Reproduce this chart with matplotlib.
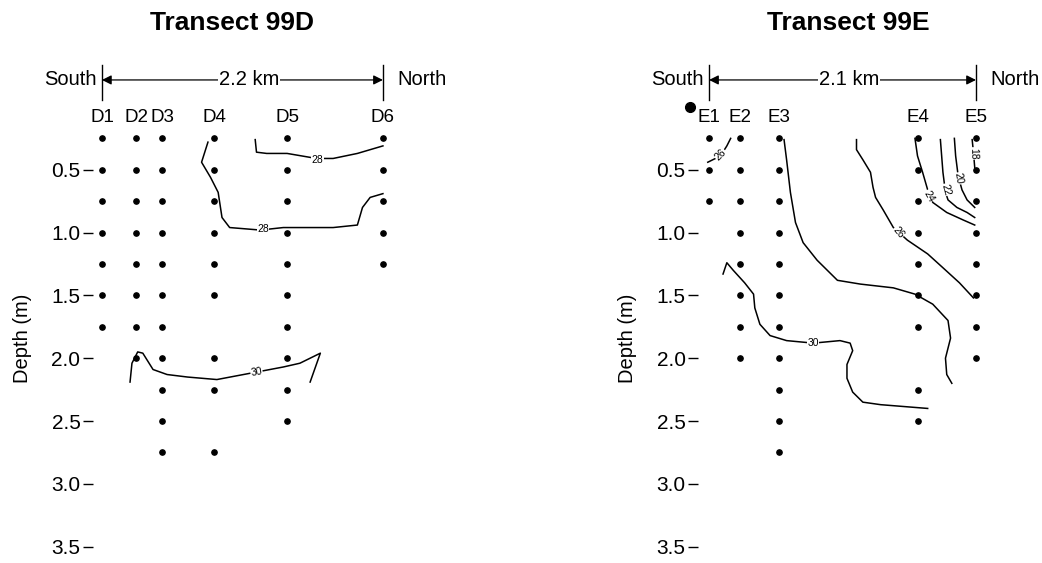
import numpy as np
import matplotlib
matplotlib.use("Agg")
import matplotlib.pyplot as plt

plt.rcParams['font.family'] = ['Liberation Sans', 'DejaVu Sans']

# ---- Transect 99D ----
d_names = ['D1', 'D2', 'D3', 'D4', 'D5', 'D6']
d_km = [0.0, 0.27, 0.47, 0.88, 1.45, 2.2]
d_depths = [
    [0.25, 0.5, 0.75, 1.0, 1.25, 1.5, 1.75],
    [0.25, 0.5, 0.75, 1.0, 1.25, 1.5, 1.75, 2.0],
    [0.25, 0.5, 0.75, 1.0, 1.25, 1.5, 1.75, 2.0, 2.25, 2.5, 2.75],
    [0.25, 0.5, 0.75, 1.0, 1.25, 1.5, 2.0, 2.25, 2.75],
    [0.25, 0.5, 0.75, 1.0, 1.25, 1.5, 1.75, 2.0, 2.25, 2.5],
    [0.25, 0.5, 0.75, 1.0, 1.25],
]
d_iso28a_km = [1.20, 1.21, 1.29, 1.45, 1.68, 1.81, 2.00, 2.20]
d_iso28a_dep = [0.26, 0.36, 0.37, 0.37, 0.41, 0.41, 0.37, 0.31]
d_iso28b_km = [0.83, 0.78, 0.85, 0.91, 0.94, 1.00, 1.24, 1.42, 1.81, 2.00, 2.04, 2.10, 2.20]
d_iso28b_dep = [0.28, 0.44, 0.56, 0.68, 0.88, 0.96, 0.98, 0.96, 0.96, 0.94, 0.80, 0.72, 0.69]
d_iso30_km = [0.22, 0.235, 0.28, 0.32, 0.40, 0.51, 0.67, 0.90, 1.16, 1.42, 1.55, 1.71, 1.63]
d_iso30_dep = [2.19, 2.04, 1.95, 1.96, 2.09, 2.13, 2.15, 2.17, 2.12, 2.07, 2.04, 1.96, 2.19]

# ---- Transect 99E ----
e_names = ['E1', 'E2', 'E3', 'E4', 'E5']
e_km = [0.0, 0.24, 0.55, 1.64, 2.1]
e_depths = [
    [0.25, 0.5, 0.75],
    [0.25, 0.5, 0.75, 1.0, 1.25, 1.5, 1.75, 2.0],
    [0.25, 0.5, 0.75, 1.0, 1.25, 1.5, 1.75, 2.0, 2.25, 2.5, 2.75],
    [0.25, 0.5, 0.75, 1.0, 1.25, 1.5, 1.75, 2.25, 2.5],
    [0.25, 0.5, 0.75, 1.0, 1.25, 1.5, 1.75, 2.0],
]
e_extra_km, e_extra_dep = -0.15, 0.0

e_iso26a_km = [-0.01, 0.09, 0.14, 0.17]
e_iso26a_dep = [0.44, 0.39, 0.31, 0.25]
e_iso30_km = [0.11, 0.14, 0.19, 0.28, 0.35, 0.36, 0.40, 0.48, 0.61, 0.82, 1.03, 1.11, 1.13,
              1.085, 1.085, 1.13, 1.21, 1.35, 1.72]
e_iso30_dep = [1.33, 1.24, 1.30, 1.40, 1.49, 1.60, 1.73, 1.82, 1.86, 1.88, 1.86, 1.88, 1.94,
               2.05, 2.16, 2.27, 2.35, 2.37, 2.40]
e_iso28_km = [0.59, 0.61, 0.64, 0.68, 0.74, 0.85, 0.93, 1.01, 1.19, 1.45, 1.62, 1.76, 1.88,
              1.90, 1.86, 1.87, 1.91]
e_iso28_dep = [0.26, 0.42, 0.68, 0.92, 1.08, 1.22, 1.30, 1.38, 1.41, 1.44, 1.49, 1.57, 1.70,
               1.84, 2.00, 2.13, 2.20]
e_iso26b_km = [1.16, 1.16, 1.21, 1.27, 1.29, 1.31, 1.37, 1.45, 1.56, 1.72, 1.84, 1.97, 2.08]
e_iso26b_dep = [0.26, 0.34, 0.42, 0.52, 0.64, 0.72, 0.82, 0.96, 1.06, 1.17, 1.28, 1.40, 1.52]
e_iso24_km = [1.62, 1.64, 1.68, 1.72, 1.76, 1.87, 2.00, 2.09]
e_iso24_dep = [0.25, 0.39, 0.52, 0.66, 0.76, 0.84, 0.90, 0.94]
e_iso22_km = [1.82, 1.83, 1.84, 1.86, 1.88, 1.95, 2.03, 2.09]
e_iso22_dep = [0.26, 0.39, 0.52, 0.68, 0.74, 0.80, 0.84, 0.88]
e_iso20_km = [1.93, 1.94, 1.96, 1.99, 2.03, 2.09]
e_iso20_dep = [0.25, 0.39, 0.55, 0.66, 0.74, 0.80]
e_iso18_km = [2.07, 2.08, 2.09]
e_iso18_dep = [0.26, 0.36, 0.48]

fig = plt.figure(figsize=(10.42, 5.63), dpi=100)

ylim = (3.62, 0.15)


def panel(ax, names, km, depths, span, span_label):
    for x, deps in zip(km, depths):
        ax.plot([x] * len(deps), deps, 'o', color='black', markersize=3.8, clip_on=False)
    for x, n in zip(km, names):
        ax.text(x, 0.085, n, ha='center', va='center', fontsize=13.5, clip_on=False)
    ax.set_ylim(*ylim)
    ax.set_yticks([0.5, 1.0, 1.5, 2.0, 2.5, 3.0, 3.5])
    ax.set_yticklabels(['0.5', '1.0', '1.5', '2.0', '2.5', '3.0', '3.5'])
    ax.tick_params(axis='y', length=7, width=1, labelsize=15, pad=2)
    ax.set_xticks([])
    for s in ax.spines.values():
        s.set_visible(False)
    ax.set_ylabel('Depth (m)', fontsize=14.5)
    ax.yaxis.set_label_coords(-0.2, 0.513)
    # scale bar
    yb = -0.215
    ax.plot([0, 0], [-0.335, -0.055], color='black', lw=1, clip_on=False)
    ax.plot([span, span], [-0.335, -0.055], color='black', lw=1, clip_on=False)
    ax.annotate('', xy=(0, yb), xytext=(span, yb),
                arrowprops=dict(arrowstyle='<|-|>', color='black', lw=0.9,
                                mutation_scale=14, shrinkA=0, shrinkB=0),
                annotation_clip=False)
    ax.text(span / 2 + 0.05, yb, span_label, ha='center', va='center', fontsize=14.5,
            bbox=dict(facecolor='white', edgecolor='none', pad=0.5), clip_on=False)
    ax.text(-0.04, yb, 'South', ha='right', va='center', fontsize=14.5, clip_on=False)
    ax.text(span + 0.11, yb, 'North', ha='left', va='center', fontsize=14.5, clip_on=False)


def iso(ax, xs, ys, label=None, lx=None, ly=None, rot=0):
    ax.plot(xs, ys, color='black', lw=1.1, clip_on=False)
    if label:
        ax.text(lx, ly, label, fontsize=7.5, ha='center', va='center', rotation=rot,
                bbox=dict(facecolor='white', edgecolor='none', pad=0.3))


# left panel
ax1 = fig.add_axes([93 / 1042, 1.3 / 563, 302.7 / 1042, 435.9 / 563])
ax1.set_xlim(-0.07, 2.3)
panel(ax1, d_names, d_km, d_depths, 2.2, '2.2 km')
iso(ax1, d_iso28a_km, d_iso28a_dep, '28', 1.69, 0.42, 0)
iso(ax1, d_iso28b_km, d_iso28b_dep, '28', 1.26, 0.975, 0)
iso(ax1, d_iso30_km, d_iso30_dep, '30', 1.21, 2.11, 10)

# right panel
ax2 = fig.add_axes([698 / 1042, 1.3 / 563, 303.4 / 1042, 435.9 / 563])
ax2.set_xlim(-0.087, 2.3)
panel(ax2, e_names, e_km, e_depths, 2.1, '2.1 km')
ax2.plot([e_extra_km], [e_extra_dep], 'o', color='black', markersize=7, clip_on=False)
iso(ax2, e_iso26a_km, e_iso26a_dep, '26', 0.09, 0.38, 45)
iso(ax2, e_iso30_km, e_iso30_dep, '30', 0.82, 1.88, 0)
iso(ax2, e_iso28_km, e_iso28_dep)
iso(ax2, e_iso26b_km, e_iso26b_dep, '26', 1.49, 1.0, -50)
iso(ax2, e_iso24_km, e_iso24_dep, '24', 1.73, 0.71, -60)
iso(ax2, e_iso22_km, e_iso22_dep, '22', 1.86, 0.66, -75)
iso(ax2, e_iso20_km, e_iso20_dep, '20', 1.96, 0.57, -80)
iso(ax2, e_iso18_km, e_iso18_dep, '18', 2.08, 0.37, -88)

fig.text(232 / 1042, 1 - 22.5 / 563, 'Transect 99D', ha='center', va='center',
         fontsize=19, fontweight='bold')
fig.text(848 / 1042, 1 - 22.5 / 563, 'Transect 99E', ha='center', va='center',
         fontsize=19, fontweight='bold')

fig.savefig('out.png', dpi=100)
